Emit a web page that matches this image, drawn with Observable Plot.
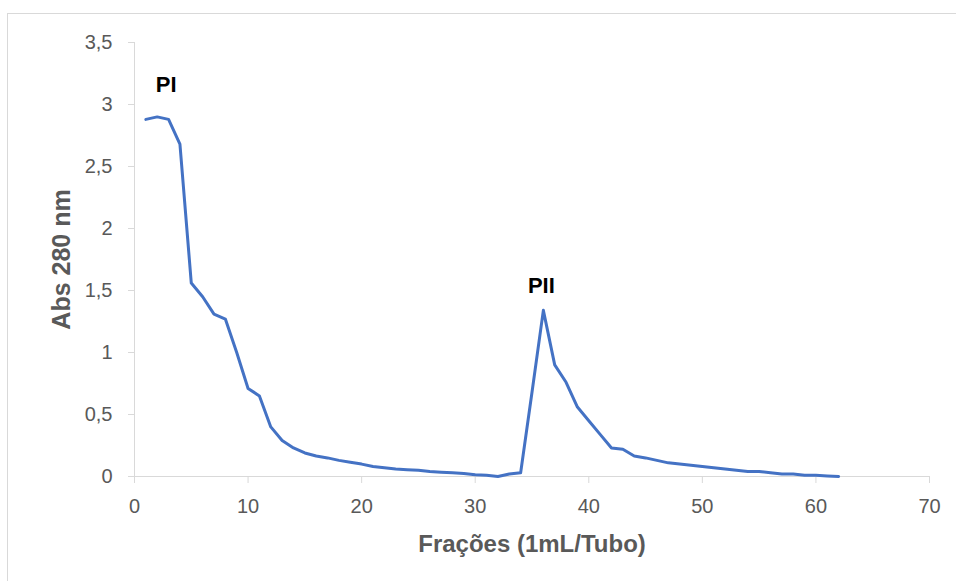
<!DOCTYPE html>
<html>
<head>
<meta charset="utf-8">
<script src="https://cdn.jsdelivr.net/npm/d3@7"></script>
<script src="https://cdn.jsdelivr.net/npm/@observablehq/plot@0.6"></script>
<style>
  html, body { margin: 0; padding: 0; background: #fff; overflow: hidden; }
  #wrap { position: relative; width: 956px; height: 581px; }
  #frame { position: absolute; left: 7px; top: 13px; width: 2000px; height: 2000px; border: 1px solid #d9d9d9; box-sizing: border-box; }
  #chart { position: absolute; left: 0; top: 0; }
</style>
</head>
<body>
<div id="wrap"><div id="frame"></div><div id="chart"></div></div>
<script>
const fractions = [1,2,3,4,5,6,7,8,9,10,11,12,13,14,15,16,17,18,19,20,21,22,23,24,25,26,27,28,29,30,31,32,33,34,35,36,37,38,39,40,41,42,43,44,45,46,47,48,49,50,51,52,53,54,55,56,57,58,59,60,61,62];
const absorbance = [2.88,2.90,2.88,2.68,1.56,1.45,1.31,1.27,1.00,0.71,0.65,0.40,0.29,0.23,0.19,0.165,0.15,0.13,0.115,0.10,0.08,0.07,0.06,0.055,0.05,0.04,0.035,0.03,0.025,0.015,0.01,0.0,0.02,0.03,0.68,1.34,0.90,0.76,0.56,0.45,0.34,0.23,0.22,0.165,0.15,0.13,0.11,0.10,0.09,0.08,0.07,0.06,0.05,0.04,0.04,0.03,0.02,0.02,0.01,0.01,0.005,0.0];
const peakLabels = ["PI", "PII"];
const peakFractions = [2, 36];
const peakValues = [2.90, 1.34];
const xTicks = [0,10,20,30,40,50,60,70];
const yTicks = [0,0.5,1,1.5,2,2.5,3,3.5];
const xTitle = "Frações (1mL/Tubo)";
const yTitle = "Abs 280 nm";

const data = fractions.map((f, i) => ({fraction: f, abs: absorbance[i]}));
const peaks = peakLabels.map((l, i) => ({label: l, fraction: peakFractions[i], abs: peakValues[i]}));
const fmt = d => String(d).replace(".", ",");

const chart = Plot.plot({
  width: 956,
  height: 581,
  marginLeft: 134,
  marginRight: 27,
  marginTop: 42,
  marginBottom: 105,
  x: {domain: [0, 70]},
  y: {domain: [0, 3.5]},
  style: {fontFamily: "'Liberation Sans', Arial, sans-serif", background: "transparent", overflow: "visible"},
  marks: [
    Plot.ruleY([0], {stroke: "#d9d9d9", strokeWidth: 1}),
    Plot.ruleX([0], {stroke: "#d9d9d9", strokeWidth: 1}),
    Plot.axisX(xTicks, {tickSize: 7, tickPadding: 15, stroke: "#d9d9d9", fill: "#595959", fontSize: 20, label: null, tickFormat: fmt}),
    Plot.axisY(yTicks, {tickSize: 6, tickPadding: 16, stroke: "#d9d9d9", fill: "#595959", fontSize: 20, label: null, tickFormat: fmt}),
    Plot.line(data, {x: "fraction", y: "abs", stroke: "#4472C4", strokeWidth: 3, strokeLinejoin: "round"}),
    Plot.text(peaks.slice(0, 1), {x: "fraction", y: "abs", text: "label", dx: 9, dy: -32, fontSize: 22, fontWeight: "bold", fill: "#000", lineAnchor: "middle"}),
    Plot.text(peaks.slice(1), {x: "fraction", y: "abs", text: "label", dx: -2, dy: -24, fontSize: 22, fontWeight: "bold", fill: "#000", lineAnchor: "middle"}),
    Plot.text([xTitle], {frameAnchor: "bottom", dy: 68, fontSize: 24, fontWeight: "bold", fill: "#595959", textAnchor: "middle", lineAnchor: "middle"}),
    Plot.text([yTitle], {frameAnchor: "left", dx: -73, dy: 0, rotate: -90, fontSize: 25, fontWeight: "bold", fill: "#595959", textAnchor: "middle", lineAnchor: "middle"})
  ]
});
document.getElementById("chart").appendChild(chart);
</script>
</body>
</html>
